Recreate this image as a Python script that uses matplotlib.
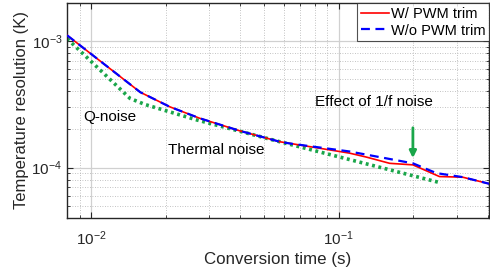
import matplotlib
matplotlib.use("Agg")
import matplotlib.pyplot as plt
from matplotlib.ticker import LogLocator, NullFormatter

plt.rcParams['font.family'] = ['Liberation Sans', 'DejaVu Sans']

# Data
red_x = [0.008, 0.0158, 0.0208, 0.0275, 0.0399, 0.0578, 0.1106, 0.1294, 0.1607, 0.1995, 0.2553, 0.317, 0.406]
red_y = [1.11e-3, 3.94e-4, 3.02e-4, 2.45e-4, 1.95e-4, 1.60e-4, 1.30e-4, 1.21e-4, 1.08e-4, 1.05e-4, 8.49e-5, 8.39e-5, 7.44e-5]
blue_x = [0.008, 0.0158, 0.0208, 0.0275, 0.0399, 0.0578, 0.0634, 0.1106, 0.1995, 0.248, 0.317, 0.406]
blue_y = [1.11e-3, 3.94e-4, 3.02e-4, 2.45e-4, 1.95e-4, 1.60e-4, 1.55e-4, 1.34e-4, 1.08e-4, 9.04e-5, 8.4e-5, 7.44e-5]
green_x = [0.008, 0.01436, 0.01652, 0.0267, 0.0578, 0.255]
green_y = [1.045e-3, 3.52e-4, 3.15e-4, 2.38e-4, 1.60e-4, 7.62e-5]

fig = plt.figure(figsize=(4.9, 2.71), dpi=100)
ax = fig.add_axes([0.137, 0.196, 0.861, 0.793])

ax.plot(red_x, red_y, color='#ff0000', lw=1.2, label='W/ PWM trim', zorder=3)
ax.plot(blue_x, blue_y, color='#0000ff', lw=1.6, ls=(0, (4, 2.5)), label='W/o PWM trim', zorder=4)
ax.plot(green_x, green_y, color='#1aa64a', lw=2.6, ls=(0, (0.8, 1.0)), zorder=2)

ax.set_xscale('log')
ax.set_yscale('log')
ax.set_xlim(0.008, 0.405)
ax.set_ylim(4e-5, 2e-3)

ax.xaxis.set_major_locator(LogLocator(base=10, numticks=10))
ax.xaxis.set_minor_locator(LogLocator(base=10, subs=range(2, 10), numticks=20))
ax.yaxis.set_major_locator(LogLocator(base=10, numticks=10))
ax.yaxis.set_minor_locator(LogLocator(base=10, subs=range(2, 10), numticks=20))
ax.xaxis.set_minor_formatter(NullFormatter())
ax.yaxis.set_minor_formatter(NullFormatter())

ax.grid(True, which='major', color='#d0d0d0', lw=0.9, ls='-')
ax.grid(True, which='minor', color='#b0b0b0', lw=0.6, ls=(0, (1, 2)))
ax.set_axisbelow(True)

ax.tick_params(which='both', direction='in', top=True, right=True, colors='#262626', labelsize=11)
ax.tick_params(which='major', length=4, width=0.8)
ax.tick_params(which='minor', length=2.5, width=0.6)
ax.tick_params(axis='x', pad=8)
for s in ax.spines.values():
    s.set_color('#262626')
    s.set_linewidth(1.0)

ax.set_xlabel('Conversion time (s)', fontsize=12.2, color='#262626', labelpad=3)
ax.set_ylabel('Temperature resolution (K)', fontsize=12, color='#262626', labelpad=2)

ax.text(0.0093, 2.5e-4, 'Q-noise', fontsize=11, color='#000000', va='center', ha='left')
ax.text(0.0204, 1.38e-4, 'Thermal noise', fontsize=11, color='#000000', va='center', ha='left')
ax.text(0.080, 3.29e-4, 'Effect of 1/f noise', fontsize=11, color='#000000', va='center', ha='left')
ax.annotate('', xy=(0.1995, 1.13e-4), xytext=(0.1995, 2.17e-4),
            arrowprops=dict(arrowstyle='-|>', color='#1aa64a', lw=2, mutation_scale=10))

leg = ax.legend(loc='upper right', fontsize=10.5, frameon=True, fancybox=False,
                edgecolor='#262626', borderpad=0.25, handlelength=1.9, handletextpad=0.15,
                labelspacing=0.2, borderaxespad=0.0)
leg.get_frame().set_linewidth(0.8)

fig.savefig('out.png', dpi=100)
